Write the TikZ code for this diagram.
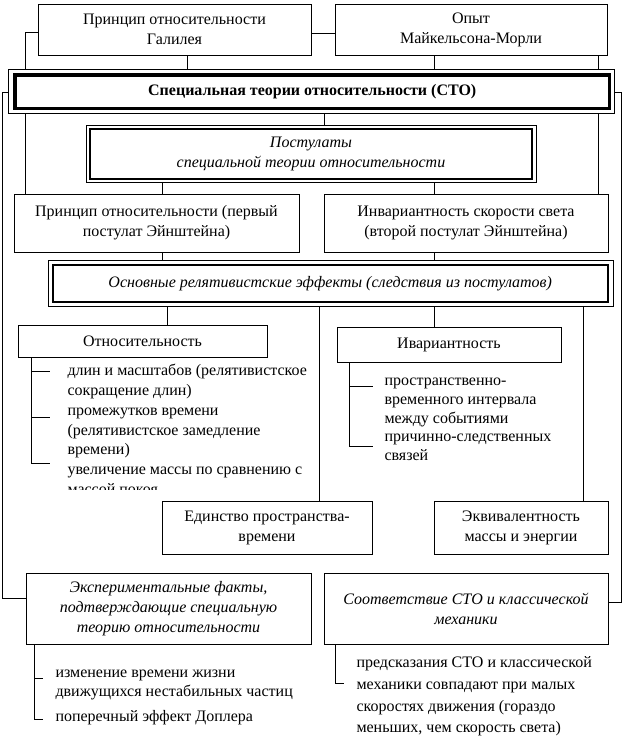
\documentclass[tikz,border=0pt]{standalone}
\usepackage{fontspec}
\setmainfont{Liberation Serif}
\usetikzlibrary{backgrounds}
\begin{document}
\begin{tikzpicture}[x=0.75pt,y=-0.75pt,line width=0.75pt,
  box/.style={draw,fill=white,inner sep=0pt,align=center,font=\fontsize{12}{15}\selectfont},
  ibox/.style={box,font=\fontsize{12}{15}\selectfont\itshape},
  lst/.style={anchor=base west,inner sep=0pt,font=\fontsize{12}{15}\selectfont},
  frame/.style={draw,fill=white,line width=0.75pt}]
\useasboundingbox (0,0) rectangle (637,747);
% boxes
\node[box,minimum width=273*0.75pt,minimum height=51*0.75pt] (G) at (174.5,29.5) {Принцип относительности\\Галилея};
\node[box,minimum width=272*0.75pt,minimum height=51*0.75pt] (M) at (471,29.5) {Опыт\\Майкельсона-Морли};
\node[box,line width=2.5pt,minimum width=594.5*0.75pt,minimum height=33.5*0.75pt,font=\fontsize{12}{14}\selectfont\bfseries] (main) at (312.25,91.75) {Специальная теории относительности (СТО)};
\node[ibox,line width=1.1pt,minimum width=442*0.75pt,minimum height=50*0.75pt] (post) at (311,154) {Постулаты\\специальной теории относительности};
\node[box,minimum width=285*0.75pt,minimum height=58*0.75pt] (P1) at (156.5,223) {Принцип относительности (первый\\постулат Эйнштейна)};
\node[box,minimum width=284*0.75pt,minimum height=58*0.75pt] (P2) at (466,223) {Инвариантность скорости света\\(второй постулат Эйнштейна)};
\node[ibox,line width=1.5pt,minimum width=555.5*0.75pt,minimum height=37.5*0.75pt] (eff) at (330.25,283.25) {Основные релятивистские эффекты (следствия из постулатов)};
\node[box,minimum width=249*0.75pt,minimum height=32*0.75pt] (otn) at (142.5,341) {Относительность};
\node[box,minimum width=224*0.75pt,minimum height=35*0.75pt] (iv) at (449,344.5) {Ивариантность};
\node[box,minimum width=210*0.75pt,minimum height=53*0.75pt] (ed) at (267,527.5) {Единство пространства-\\времени};
\node[box,minimum width=174*0.75pt,minimum height=53*0.75pt] (eq) at (521,527.5) {Эквивалентность\\массы и энергии};
\node[ibox,minimum width=285*0.75pt,minimum height=71*0.75pt] (E) at (168.5,608.5) {Экспериментальные факты,\\подтверждающие специальную\\теорию относительности};
\node[ibox,minimum width=284*0.75pt,minimum height=71*0.75pt] (C) at (466,608.5) {Соответствие СТО и классической\\механики};
% list texts
\foreach \t/\y [count=\i] in {{длин и масштабов (релятивистское}/375,{сокращение длин)}/395,{промежутков времени}/415,{(релятивистское замедление}/435,{времени)}/454,{увеличение массы по сравнению с}/474}
  \node[lst] (ol\i) at (67,\y) {\t};
\begin{scope}
\clip (0,0) rectangle (637,489);
\node[lst] (ol7) at (67,494) {массой покоя};
\end{scope}
\foreach \t/\y [count=\i] in {{пространственно-}/385,{временного интервала}/404,{между событиями}/423,{причинно-следственных}/441,{связей}/460}
  \node[lst] (il\i) at (384,\y) {\t};
\foreach \t/\y [count=\i] in {{изменение времени жизни}/677,{движущихся нестабильных частиц}/696,{поперечный эффект Доплера}/721}
  \node[lst] (el\i) at (55,\y) {\t};
\foreach \t/\y [count=\i] in {{предсказания СТО и классической}/667,{механики совпадают при малых}/689,{скоростях движения (гораздо}/711,{меньших, чем скорость света)}/732}
  \node[lst] (cl\i) at (356,\y) {\t};
% tick end points
\coordinate (ot1) at (50,371);
\coordinate (ot2) at (50,417);
\coordinate (ot3) at (50,463);
\coordinate (it1) at (373,386);
\coordinate (it2) at (373,446);
\coordinate (et1) at (43,678);
\coordinate (et2) at (43,719);
\coordinate (ct1) at (344,683);
\begin{pgfonlayer}{background}
\draw (G.east |- 0,33) -- (M.west |- 0,33);
\draw (G.west |- 0,32) -| (P1.north -| 25,0);
\draw (M.east |- 0,28) -| (P2.north -| 598,0);
\draw (G.south -| 187,0) -- (main.center -| 187,0);
\draw (M.south -| 434,0) -- (main.center -| 434,0);
\draw (main.west |- 0,92) -| (2,598) -- (E.west |- 0,598);
\draw (main.east |- 0,92) -| (621,602) -- (C.east |- 0,602);
\draw (main.center -| 324,0) -- (post.center -| 324,0);
\draw (post.center -| 162,0) -- (P1.north -| 162,0);
\draw (post.center -| 434,0) -- (P2.north -| 434,0);
\draw (P1.south -| 162,0) -- (eff.center -| 162,0);
\draw (P2.south -| 434,0) -- (eff.center -| 434,0);
\draw (eff.center -| 167,0) -- (otn.north -| 167,0);
\draw (eff.center -| 319,0) -- (ed.north -| 319,0);
\draw (eff.center -| 434,0) -- (iv.north -| 434,0);
\draw (eff.center -| 583,0) -- (eq.north -| 583,0);
\draw (otn.south -| 31,0) |- (ot3) (ot1 -| 31,0) -- (ot1) (ot2 -| 31,0) -- (ot2);
\draw (iv.south -| 349,0) |- (it2) (it1 -| 349,0) -- (it1);
\draw (E.south -| 34,0) |- (et2) (et1 -| 34,0) -- (et1);
\draw (C.south -| 335,0) |- (ct1);
% outer frames
\draw[frame] ([shift={(-4.5,-3.5)}]main.north west) rectangle ([shift={(3.5,3.5)}]main.south east);
\draw[frame] ([shift={(-3,-3)}]post.north west) rectangle ([shift={(4,3)}]post.south east);
\draw[frame] ([shift={(-3.5,-3.5)}]eff.north west) rectangle ([shift={(4,3)}]eff.south east);
\end{pgfonlayer}
\end{tikzpicture}
\end{document}
